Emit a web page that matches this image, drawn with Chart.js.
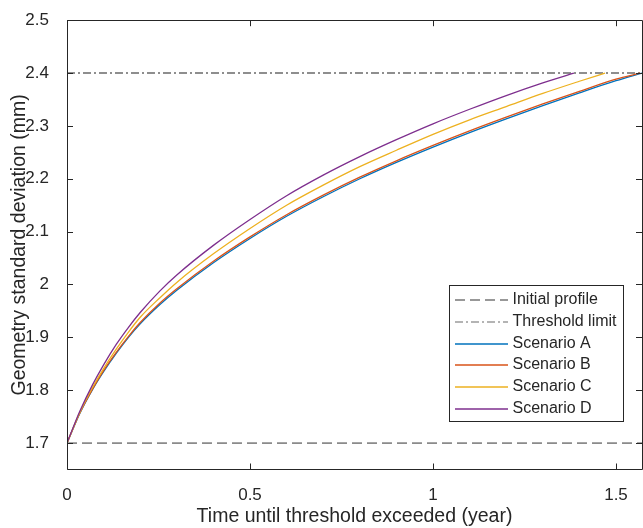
<!DOCTYPE html>
<html>
<head>
<meta charset="utf-8">
<script src="https://cdn.jsdelivr.net/npm/chart.js@4.4.1/dist/chart.umd.min.js"></script>
<style>
html,body{margin:0;padding:0;background:#fff;}
#wrap{width:643px;height:528px;position:relative;}
</style>
</head>
<body>
<div id="wrap"><canvas id="c" width="643" height="528"></canvas></div>
<script>
// ---- data ----
const xTicks = [0, 0.5, 1, 1.5];
const yTicks = [1.7, 1.8, 1.9, 2.0, 2.1, 2.2, 2.3, 2.4, 2.5];
const xTickLabels = ["0", "0.5", "1", "1.5"];
const yTickLabels = ["1.7", "1.8", "1.9", "2", "2.1", "2.2", "2.3", "2.4", "2.5"];
const xRange = [0, 1.571];
const yRange = [1.65, 2.5];

const initialProfile = 1.7;
const thresholdLimit = 2.4;

const tA = [0, 0.035, 0.07, 0.1, 0.135, 0.168, 0.2, 0.254, 0.3, 0.4, 0.5, 0.6, 0.7, 0.8, 0.9, 1.0, 1.1, 1.2, 1.3, 1.4, 1.5, 1.571];
const yA = [1.700, 1.756, 1.8015, 1.835, 1.870, 1.900, 1.9256, 1.962, 1.989, 2.041, 2.087, 2.129, 2.166, 2.200, 2.231, 2.260, 2.2875, 2.3135, 2.3385, 2.3625, 2.3855, 2.400];

const tB = [0, 0.035, 0.07, 0.1, 0.135, 0.168, 0.2, 0.254, 0.3, 0.4, 0.5, 0.6, 0.7, 0.8, 0.9, 1.0, 1.1, 1.2, 1.3, 1.4, 1.5, 1.566];
const yB = [1.700, 1.757, 1.8025, 1.837, 1.872, 1.902, 1.928, 1.965, 1.992, 2.044, 2.090, 2.132, 2.169, 2.203, 2.234, 2.263, 2.2905, 2.3165, 2.3415, 2.3655, 2.3885, 2.400];

const tC = [0, 0.035, 0.07, 0.1, 0.135, 0.168, 0.2, 0.254, 0.3, 0.4, 0.5, 0.6, 0.7, 0.8, 0.9, 1.0, 1.1, 1.2, 1.3, 1.4, 1.47];
const yC = [1.700, 1.758, 1.8055, 1.841, 1.878, 1.910, 1.938, 1.975, 2.004, 2.058, 2.106, 2.150, 2.188, 2.223, 2.254, 2.284, 2.3115, 2.3365, 2.3615, 2.3845, 2.400];

const tD = [0, 0.035, 0.07, 0.1, 0.135, 0.168, 0.2, 0.254, 0.3, 0.4, 0.5, 0.6, 0.7, 0.8, 0.9, 1.0, 1.1, 1.2, 1.3, 1.385];
const yD = [1.700, 1.760, 1.8105, 1.848, 1.887, 1.919, 1.947, 1.988, 2.018, 2.074, 2.123, 2.168, 2.207, 2.242, 2.274, 2.304, 2.3315, 2.3575, 2.3815, 2.400];

const seriesNames = ["Initial profile", "Threshold limit", "Scenario A", "Scenario B", "Scenario C", "Scenario D"];
const seriesColors = ["#333333", "#6a6a6a", "#0072BD", "#D95319", "#EDB120", "#7E2F8E"];
const seriesWidths = [1, 1.5, 1.3, 1.3, 1.3, 1.3];
const seriesDashes = [[10, 5], [8, 3, 2, 3], [], [], [], []];

// ---- build ----
const pts = (xs, ys) => xs.map((x, i) => ({x: x, y: ys[i]}));
const FONT = "'Liberation Sans', Arial, Helvetica, sans-serif";
const AX = "#262626";

const seriesData = [
  pts(xRange, [initialProfile, initialProfile]),
  pts(xRange, [thresholdLimit, thresholdLimit]),
  pts(tA, yA), pts(tB, yB), pts(tC, yC), pts(tD, yD)
];

const datasets = seriesData.map((d, i) => ({
  label: seriesNames[i], data: d,
  borderColor: seriesColors[i], borderWidth: seriesWidths[i], borderDash: seriesDashes[i],
  pointRadius: 0, fill: false, cubicInterpolationMode: 'monotone', order: 10 - i
}));

const boxPlugin = {
  id: 'matlabBox',
  afterDatasetsDraw(chart) {
    const {ctx, chartArea: a, scales: {x, y}} = chart;
    ctx.save();
    ctx.strokeStyle = AX;
    ctx.lineWidth = 1;
    ctx.setLineDash([]);
    ctx.beginPath();
    ctx.rect(Math.round(a.left) + 0.5, Math.round(a.top) + 0.5, Math.round(a.right - a.left), Math.round(a.bottom - a.top));
    ctx.stroke();
    const L = 6;
    ctx.beginPath();
    xTicks.forEach(v => {
      const px = Math.round(x.getPixelForValue(v)) + 0.5;
      ctx.moveTo(px, a.bottom); ctx.lineTo(px, a.bottom - L);
      ctx.moveTo(px, a.top); ctx.lineTo(px, a.top + L);
    });
    yTicks.forEach(v => {
      const py = Math.round(y.getPixelForValue(v)) + 0.5;
      ctx.moveTo(a.left, py); ctx.lineTo(a.left + L, py);
      ctx.moveTo(a.right, py); ctx.lineTo(a.right - L, py);
    });
    ctx.stroke();

    // legend
    const lx0 = a.right - 193, lx1 = a.right - 19.5;
    const ly0 = a.bottom - 184.5, ly1 = a.bottom - 48.5;
    ctx.fillStyle = '#fff';
    ctx.fillRect(lx0, ly0, lx1 - lx0, ly1 - ly0);
    ctx.strokeStyle = AX;
    ctx.lineWidth = 1;
    ctx.strokeRect(Math.round(lx0) + 0.5, Math.round(ly0) + 0.5, Math.round(lx1 - lx0), Math.round(ly1 - ly0));
    ctx.font = "16px " + FONT;
    ctx.textBaseline = 'middle';
    ctx.textAlign = 'left';
    seriesNames.forEach((name, i) => {
      const cy = Math.round(ly0 + 15 + i * 21.75);
      ctx.strokeStyle = seriesColors[i];
      ctx.lineWidth = i < 2 ? 1.2 : 1.6;
      ctx.setLineDash(seriesDashes[i]);
      ctx.beginPath();
      ctx.moveTo(lx0 + 6, cy); ctx.lineTo(lx0 + 59, cy);
      ctx.stroke();
      ctx.setLineDash([]);
      ctx.fillStyle = AX;
      ctx.fillText(name, lx0 + 63.5, cy);
    });
    ctx.restore();
  }
};

new Chart(document.getElementById('c'), {
  type: 'line',
  data: {datasets: datasets},
  options: {
    responsive: false,
    animation: false,
    layout: {padding: {top: 15, right: 1, left: 0, bottom: 0}},
    plugins: {legend: {display: false}, tooltip: {enabled: false}},
    scales: {
      x: {
        type: 'linear', min: xRange[0], max: xRange[1],
        afterBuildTicks: s => { s.ticks = xTicks.map(v => ({value: v})); },
        afterFit: s => { s.height = 58.5; },
        grid: {display: false}, border: {display: false},
        ticks: {
          padding: 8, color: AX, font: {family: FONT, size: 17},
          callback: (v) => { const i = xTicks.indexOf(v); return i >= 0 ? xTickLabels[i] : ''; },
          maxRotation: 0, autoSkip: false
        },
        title: {display: true, text: 'Time until threshold exceeded (year)', color: AX, font: {family: FONT, size: 19.5}, padding: {top: 1, bottom: 0}}
      },
      y: {
        type: 'linear', min: yRange[0], max: yRange[1],
        afterBuildTicks: s => { s.ticks = yTicks.map(v => ({value: v})); },
        afterFit: s => { s.width = 67; },
        grid: {display: false}, border: {display: false},
        ticks: {
          padding: 10, color: AX, font: {family: FONT, size: 17},
          callback: (v) => { const i = yTicks.findIndex(t => Math.abs(t - v) < 1e-9); return i >= 0 ? yTickLabels[i] : ''; },
          autoSkip: false
        },
        title: {display: true, text: 'Geometry standard deviation (mm)', color: AX, font: {family: FONT, size: 19.5}, padding: {top: 7.5, bottom: 0}}
      }
    }
  },
  plugins: [boxPlugin]
});
</script>
</body>
</html>
